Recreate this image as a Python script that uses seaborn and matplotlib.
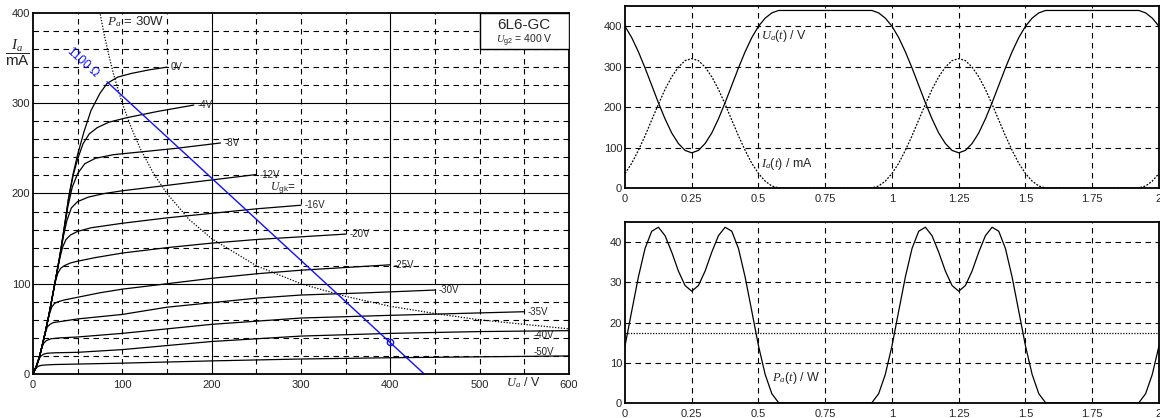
import numpy as np
import pandas as pd
import matplotlib
matplotlib.use("Agg")
import matplotlib.pyplot as plt
import seaborn as sns
from matplotlib.patches import Rectangle

# ---- tube characteristic curves Ia(Ua) ----
ugk_names = ["0V", "-4V", "-8V", "-12V", "-16V", "-20V", "-25V", "-30V", "-35V", "-40V", "-50V"]

ua_0 = [0, 4, 7, 10, 14, 18, 22, 25, 30, 35, 40, 45, 50, 57, 65, 75, 83, 95, 110, 130, 150]
ia_0 = [0, 9, 18, 30, 47, 66, 87, 103, 130, 162, 196, 222, 243, 268, 292, 311, 322, 329, 333, 337, 340]
ua_4 = [0, 4, 7, 10, 14, 18, 22, 25, 30, 35, 40, 45, 50, 56, 63, 72, 85, 105, 140, 180]
ia_4 = [0, 9, 18, 30, 47, 66, 87, 103, 130, 162, 195, 220, 238, 255, 266, 273, 279, 284, 291, 298]
ua_8 = [0, 4, 7, 10, 14, 18, 22, 25, 30, 35, 39, 44, 50, 58, 70, 90, 120, 160, 210]
ia_8 = [0, 9, 18, 30, 47, 66, 87, 103, 130, 160, 185, 207, 222, 233, 239, 243, 246, 250, 256]
ua_12 = [0, 4, 7, 10, 14, 18, 22, 25, 30, 34, 38, 43, 50, 62, 80, 100, 150, 200, 250]
ia_12 = [0, 9, 18, 30, 47, 66, 87, 103, 130, 152, 170, 184, 191, 196, 200, 203, 209, 215, 221]
ua_16 = [0, 4, 7, 10, 14, 18, 22, 25, 30, 33, 37, 42, 50, 65, 100, 150, 200, 250, 300]
ia_16 = [0, 9, 18, 30, 47, 66, 87, 103, 128, 140, 149, 154, 158, 162, 167, 173, 178, 183, 187]
ua_20 = [0, 4, 7, 10, 14, 18, 22, 25, 28, 31, 35, 42, 50, 70, 100, 150, 200, 250, 300, 350]
ia_20 = [0, 9, 18, 30, 47, 66, 87, 102, 112, 117, 120, 123, 125, 129, 134, 140, 145, 149, 152, 155]
ua_25 = [0, 4, 7, 10, 14, 18, 21, 24, 28, 35, 50, 75, 100, 150, 200, 250, 300, 350, 400]
ia_25 = [0, 9, 18, 30, 47, 65, 74, 78, 80, 82, 85, 90, 94, 100, 106, 111, 115, 118, 121]
ua_30 = [0, 4, 7, 10, 14, 16, 19, 23, 30, 50, 100, 150, 200, 250, 300, 375, 450]
ia_30 = [0, 9, 18, 30, 46, 52, 55, 57, 58, 61, 66, 74, 79, 84, 87.5, 90, 93]
ua_35 = [0, 4, 7, 10, 12, 15, 20, 30, 50, 100, 200, 300, 400, 475, 550]
ia_35 = [0, 9, 18, 29, 34, 37, 39, 40, 41, 45, 55, 62, 65, 67, 69]
ua_40 = [0, 4, 7, 9, 12, 16, 25, 50, 100, 200, 300, 400, 500, 600]
ia_40 = [0, 9, 17, 20, 22, 23, 23.5, 24, 27, 36, 42, 45, 47, 48]
ua_50 = [0, 2, 4, 6, 9, 14, 25, 50, 100, 200, 300, 400, 500, 600]
ia_50 = [0, 4, 7, 8.5, 9.5, 10, 10.5, 11, 12, 14.5, 16.6, 18, 19, 20]

curves_ua = [ua_0, ua_4, ua_8, ua_12, ua_16, ua_20, ua_25, ua_30, ua_35, ua_40, ua_50]
curves_ia = [ia_0, ia_4, ia_8, ia_12, ia_16, ia_20, ia_25, ia_30, ia_35, ia_40, ia_50]

# Pa = 30 W limit curve
pa30_ua = [73, 76, 80, 85, 90, 95, 100, 110, 120, 135, 150, 175, 200, 250, 300, 350, 400, 450, 500, 550, 600]
pa30_ia = [411, 395, 375, 353, 333, 316, 300, 273, 250, 222, 200, 171, 150, 120, 100, 86, 75, 67, 60, 55, 50]

# 1100 ohm load line and operating point
load_ua = [83, 438]
load_ia = [323.7, 0]
op_ua = [400]
op_ia = [35.5]

# ---- time signals over two periods ----
t = np.linspace(0, 2, 81)
ua_t = [400, 372, 337, 297, 254, 211, 171, 136, 110, 93, 87, 93, 110, 136, 171, 211, 254, 297, 337, 372,
        400, 420, 433, 439, 439, 439, 439, 439, 439, 439, 439, 439, 439, 439, 439, 439, 439, 439, 433, 420,
        400, 372, 337, 297, 254, 211, 171, 136, 110, 93, 87, 93, 110, 136, 171, 211, 254, 297, 337, 372,
        400, 420, 433, 439, 439, 439, 439, 439, 439, 439, 439, 439, 439, 439, 439, 439, 439, 439, 433, 420,
        400]
ia_t = [36, 61, 93, 129, 168, 207, 244, 275, 299, 315, 320, 315, 299, 275, 244, 207, 168, 129, 93, 61,
        36, 17, 5, 0.3, 0, 0, 0, 0, 0, 0, 0, 0, 0, 0, 0, 0, 0, 0.3, 5, 17,
        36, 61, 93, 129, 168, 207, 244, 275, 299, 315, 320, 315, 299, 275, 244, 207, 168, 129, 93, 61,
        36, 17, 5, 0.3, 0, 0, 0, 0, 0, 0, 0, 0, 0, 0, 0, 0, 0, 0.3, 5, 17,
        36]
pa_t = [14.2, 22.8, 31.3, 38.4, 42.7, 43.7, 41.6, 37.5, 32.8, 29.2, 27.8, 29.2, 32.8, 37.5, 41.6, 43.7, 42.7, 38.4, 31.3, 22.8,
        14.2, 7.1, 2.3, 0.1, 0, 0, 0, 0, 0, 0, 0, 0, 0, 0, 0, 0, 0, 0.1, 2.3, 7.1,
        14.2, 22.8, 31.3, 38.4, 42.7, 43.7, 41.6, 37.5, 32.8, 29.2, 27.8, 29.2, 32.8, 37.5, 41.6, 43.7, 42.7, 38.4, 31.3, 22.8,
        14.2, 7.1, 2.3, 0.1, 0, 0, 0, 0, 0, 0, 0, 0, 0, 0, 0, 0, 0, 0.1, 2.3, 7.1,
        14.2]
pa_mean = 17.5

sns.set_style("white")
plt.rcParams['font.family'] = ['Liberation Sans', 'DejaVu Sans']
plt.rcParams['mathtext.fontset'] = 'custom'
plt.rcParams['mathtext.it'] = 'Liberation Serif:italic'
plt.rcParams['mathtext.rm'] = 'Liberation Sans'
plt.rcParams['axes.linewidth'] = 1.3
plt.rcParams['axes.edgecolor'] = 'black'

DASH = (0, (5, 4))

fig = plt.figure(figsize=(11.6, 4.18), dpi=100)
ax1 = fig.add_axes([0.0284, 0.1053, 0.4621, 0.8636])
ax2 = fig.add_axes([0.5388, 0.5502, 0.4603, 0.4354])
ax3 = fig.add_axes([0.5388, 0.0359, 0.4603, 0.4330])

# ---------------- left: characteristic field ----------------
rows = []
for name, ua, ia in zip(ugk_names, curves_ua, curves_ia):
    for u, i in zip(ua, ia):
        rows.append((name, u, i))
df = pd.DataFrame(rows, columns=["Ugk", "Ua", "Ia"])

for v in range(50, 600, 50):
    ax1.axvline(v, color='k', lw=0.8, ls='-' if v % 200 == 0 else DASH, zorder=0)
for v in range(20, 400, 20):
    ax1.axhline(v, color='k', lw=0.8, ls='-' if v % 100 == 0 else DASH, zorder=0)

sns.lineplot(data=df, x="Ua", y="Ia", units="Ugk", estimator=None, sort=False,
             color='k', lw=0.9, ax=ax1, legend=False)
sns.lineplot(x=pa30_ua, y=pa30_ia, color='k', lw=0.9, linestyle=(0, (1, 1.3)), ax=ax1)
sns.lineplot(x=load_ua, y=load_ia, color='#1010ff', lw=1.0, ax=ax1)
ax1.plot(op_ua, op_ia, 'o', mfc='none', mec='#1010ff', ms=4.5, mew=1.0)

for name, ua, ia in zip(ugk_names, curves_ua, curves_ia):
    if name == "-40V":
        ax1.text(560, ia[-1] - 5, name, fontsize=7, ha='left', va='center')
    elif name == "-50V":
        ax1.text(560, ia[-1] + 4, name, fontsize=7, ha='left', va='center')
    else:
        ax1.text(ua[-1] + 4, ia[-1], name, fontsize=7, ha='left', va='center')
ax1.text(265, 206, r"$U_{\mathrm{gk}}$=", fontsize=8.5, ha='left', va='center')

ax1.text(83, 390, r"$P_a$ = 30W", fontsize=9.5, ha='left', va='center')
ax1.text(56, 345, "1100 \u03a9", fontsize=8.5, color='#1010ff', rotation=-42,
         ha='center', va='center', rotation_mode='anchor')

ax1.add_patch(Rectangle((500, 360), 100, 40, facecolor='white', edgecolor='k', lw=1.0, zorder=3))
ax1.text(550, 387, "6L6-GC", fontsize=11, ha='center', va='center', zorder=4)
ax1.text(550, 369, r"$U_{\mathrm{g2}}$ = 400 V", fontsize=7.5, ha='center', va='center', zorder=4)

ax1.text(-17, 356, r"$\dfrac{I_a}{\mathrm{mA}}$", fontsize=11, ha='center', va='center', clip_on=False)
ax1.text(549, -10, r"$U_a$ / V", fontsize=9, ha='center', va='center', clip_on=False)

ax1.set_xlim(0, 600)
ax1.set_ylim(0, 400)
ax1.set_xticks([0, 100, 200, 300, 400, 500, 600])
ax1.set_xticklabels(["0", "100", "200", "300", "400", "500", "600"])
ax1.set_yticks([0, 100, 200, 300, 400])
ax1.tick_params(length=0, labelsize=8)
ax1.tick_params(axis='x', pad=4)
ax1.tick_params(axis='y', pad=2)
ax1.set_xlabel("")
ax1.set_ylabel("")

# ---------------- right: time signals ----------------
tick_t = [0, 0.25, 0.5, 0.75, 1, 1.25, 1.5, 1.75, 2]
for ax in (ax2, ax3):
    for v in tick_t[1:-1]:
        ax.axvline(v, color='k', lw=0.8, ls=DASH, zorder=0)
for v in (100, 200, 300, 400):
    ax2.axhline(v, color='k', lw=0.8, ls=DASH, zorder=0)
for v in (10, 20, 30, 40):
    ax3.axhline(v, color='k', lw=0.8, ls=DASH, zorder=0)

sns.lineplot(x=t, y=ua_t, color='k', lw=0.9, ax=ax2)
sns.lineplot(x=t, y=ia_t, color='k', lw=0.9, linestyle=(0, (1.5, 1.2)), ax=ax2)
ax2.text(0.51, 375, r"$U_a(t)$ / V", fontsize=9, ha='left', va='center')
ax2.text(0.51, 60, r"$I_a(t)$ / mA", fontsize=9, ha='left', va='center')

sns.lineplot(x=t, y=pa_t, color='k', lw=0.9, ax=ax3)
ax3.axhline(pa_mean, color='k', lw=0.9, ls=(0, (1, 1.2)))
ax3.text(0.55, 6.2, r"$P_a(t)$ / W", fontsize=9, ha='left', va='center')

ax2.set_ylim(0, 450)
ax2.set_yticks([0, 100, 200, 300, 400])
ax3.set_ylim(0, 45)
ax3.set_yticks([0, 10, 20, 30, 40])
for ax in (ax2, ax3):
    ax.set_xlim(0, 2)
    ax.set_xticks(tick_t)
    ax.set_xticklabels([f"{v:g}" for v in tick_t])
    ax.tick_params(length=0, labelsize=8)
    ax.tick_params(axis='x', pad=4)
    ax.tick_params(axis='y', pad=2)
    ax.set_xlabel("")
    ax.set_ylabel("")

fig.savefig("out.png", dpi=100)
